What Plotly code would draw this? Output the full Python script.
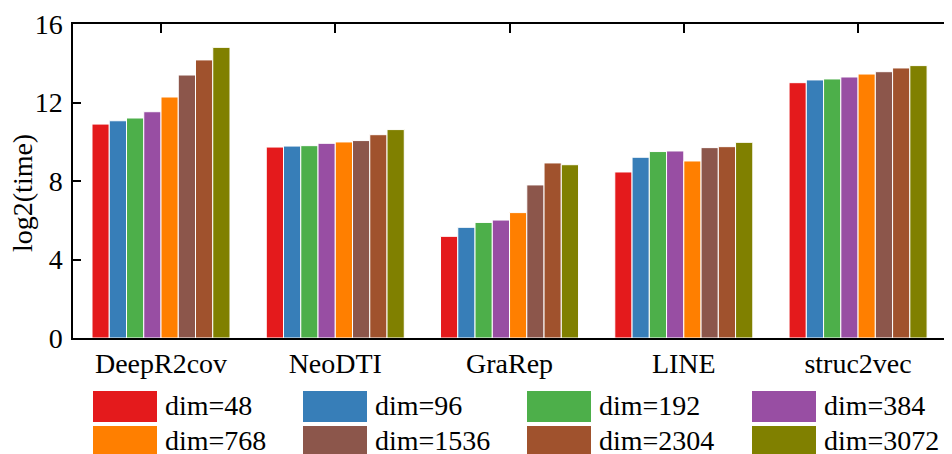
import plotly.graph_objects as go

categories = ["DeepR2cov", "NeoDTI", "GraRep", "LINE", "struc2vec"]
series_names = ["dim=48", "dim=96", "dim=192", "dim=384",
                "dim=768", "dim=1536", "dim=2304", "dim=3072"]
# values per series (one value per category)
dim48 = [10.90, 9.73, 5.18, 8.46, 13.01]
dim96 = [11.07, 9.78, 5.64, 9.21, 13.15]
dim192 = [11.21, 9.80, 5.89, 9.50, 13.20]
dim384 = [11.53, 9.92, 6.01, 9.53, 13.30]
dim768 = [12.28, 9.99, 6.39, 9.02, 13.45]
dim1536 = [13.40, 10.06, 7.80, 9.70, 13.57]
dim2304 = [14.17, 10.36, 8.92, 9.75, 13.76]
dim3072 = [14.81, 10.62, 8.83, 9.97, 13.88]
series_values = [dim48, dim96, dim192, dim384, dim768, dim1536, dim2304, dim3072]
colors = ["#e41a1c", "#377eb8", "#4daf4a", "#984ea3",
          "#ff7f00", "#8c564b", "#a0522d", "#808000"]
y_ticks = [0, 4, 8, 12, 16]

FONT = "Liberation Serif, Times New Roman, serif"
OFF = 8  # page body margin offset
W, H = 952 - OFF, 454 - OFF
L, R, T, B = 73 - OFF, 0, 24 - OFF, 454 - 338
PW, PH = W - L - R, H - T - B

fig = go.Figure()
for name, vals, col in zip(series_names, series_values, colors):
    fig.add_trace(go.Bar(x=categories, y=vals, name=name, marker_color=col,
                         marker_line=dict(color="white", width=1),
                         showlegend=False))

# dummy trace to register top / right axes (for the mirrored inner ticks)
fig.add_trace(go.Scatter(x=categories, y=[None] * len(categories),
                         xaxis="x2", yaxis="y2", mode="markers",
                         showlegend=False, hoverinfo="skip"))

xr = [-0.505, 4.539]
fig.update_layout(
    width=W, height=H,
    margin=dict(l=L, r=R, t=T, b=B, pad=0),
    paper_bgcolor="white", plot_bgcolor="white",
    barmode="group", bargap=0.208, bargroupgap=0,
    font=dict(family=FONT, size=28, color="black"),
    xaxis=dict(type="category", range=xr, showline=True, linecolor="black",
               linewidth=1.5, ticks="", showgrid=False, zeroline=False,
               tickfont=dict(size=28), ticklabelstandoff=0),
    yaxis=dict(range=[0, 16], tickvals=y_ticks, showline=True, linecolor="black",
               linewidth=1.5, ticks="inside", ticklen=8, tickwidth=1.5,
               tickcolor="black", showgrid=False, zeroline=False,
               tickfont=dict(size=28), ticklabelstandoff=3),
    xaxis2=dict(type="category", range=xr, overlaying="x", side="top",
                showline=True, linecolor="black", linewidth=1.5,
                ticks="inside", ticklen=9, tickwidth=1.5, tickcolor="black",
                showticklabels=False, showgrid=False, zeroline=False),
    yaxis2=dict(range=[0, 16], tickvals=y_ticks, overlaying="y", side="right",
                showline=False, ticks="inside", ticklen=6, tickwidth=1.5,
                tickcolor="black", showticklabels=False, showgrid=False,
                zeroline=False),
)

def px_to_paper_x(x):
    # x given in screen pixels
    return (x - OFF - L) / PW

def px_to_paper_y(y):
    return (H - B - (y - OFF)) / PH

# y-axis title
fig.add_annotation(text="log2(time)", textangle=-90, showarrow=False,
                   xref="paper", yref="paper",
                   x=px_to_paper_x(22), y=px_to_paper_y(193),
                   xanchor="center", yanchor="middle",
                   font=dict(size=28, family=FONT, color="black"))

# manual legend: 2 rows x 4 columns with large swatches
col_x = [93, 303, 527, 752]
row_y = [391, 426]
sw_w, sw_h = 64, 31
for i, (name, col) in enumerate(zip(series_names, colors)):
    r, c = divmod(i, 4)
    x0, y0 = col_x[c], row_y[r]
    fig.add_shape(type="rect", xref="paper", yref="paper",
                  x0=px_to_paper_x(x0), x1=px_to_paper_x(x0 + sw_w),
                  y0=px_to_paper_y(y0), y1=px_to_paper_y(y0 + sw_h),
                  fillcolor=col, line=dict(color=col, width=0))
    fig.add_annotation(text=name, showarrow=False, xref="paper", yref="paper",
                       x=px_to_paper_x(x0 + sw_w + 6),
                       y=px_to_paper_y(y0 + sw_h / 2 - 1),
                       xanchor="left", yanchor="middle",
                       font=dict(size=28, family=FONT, color="black"))

fig.write_html("out.html")
